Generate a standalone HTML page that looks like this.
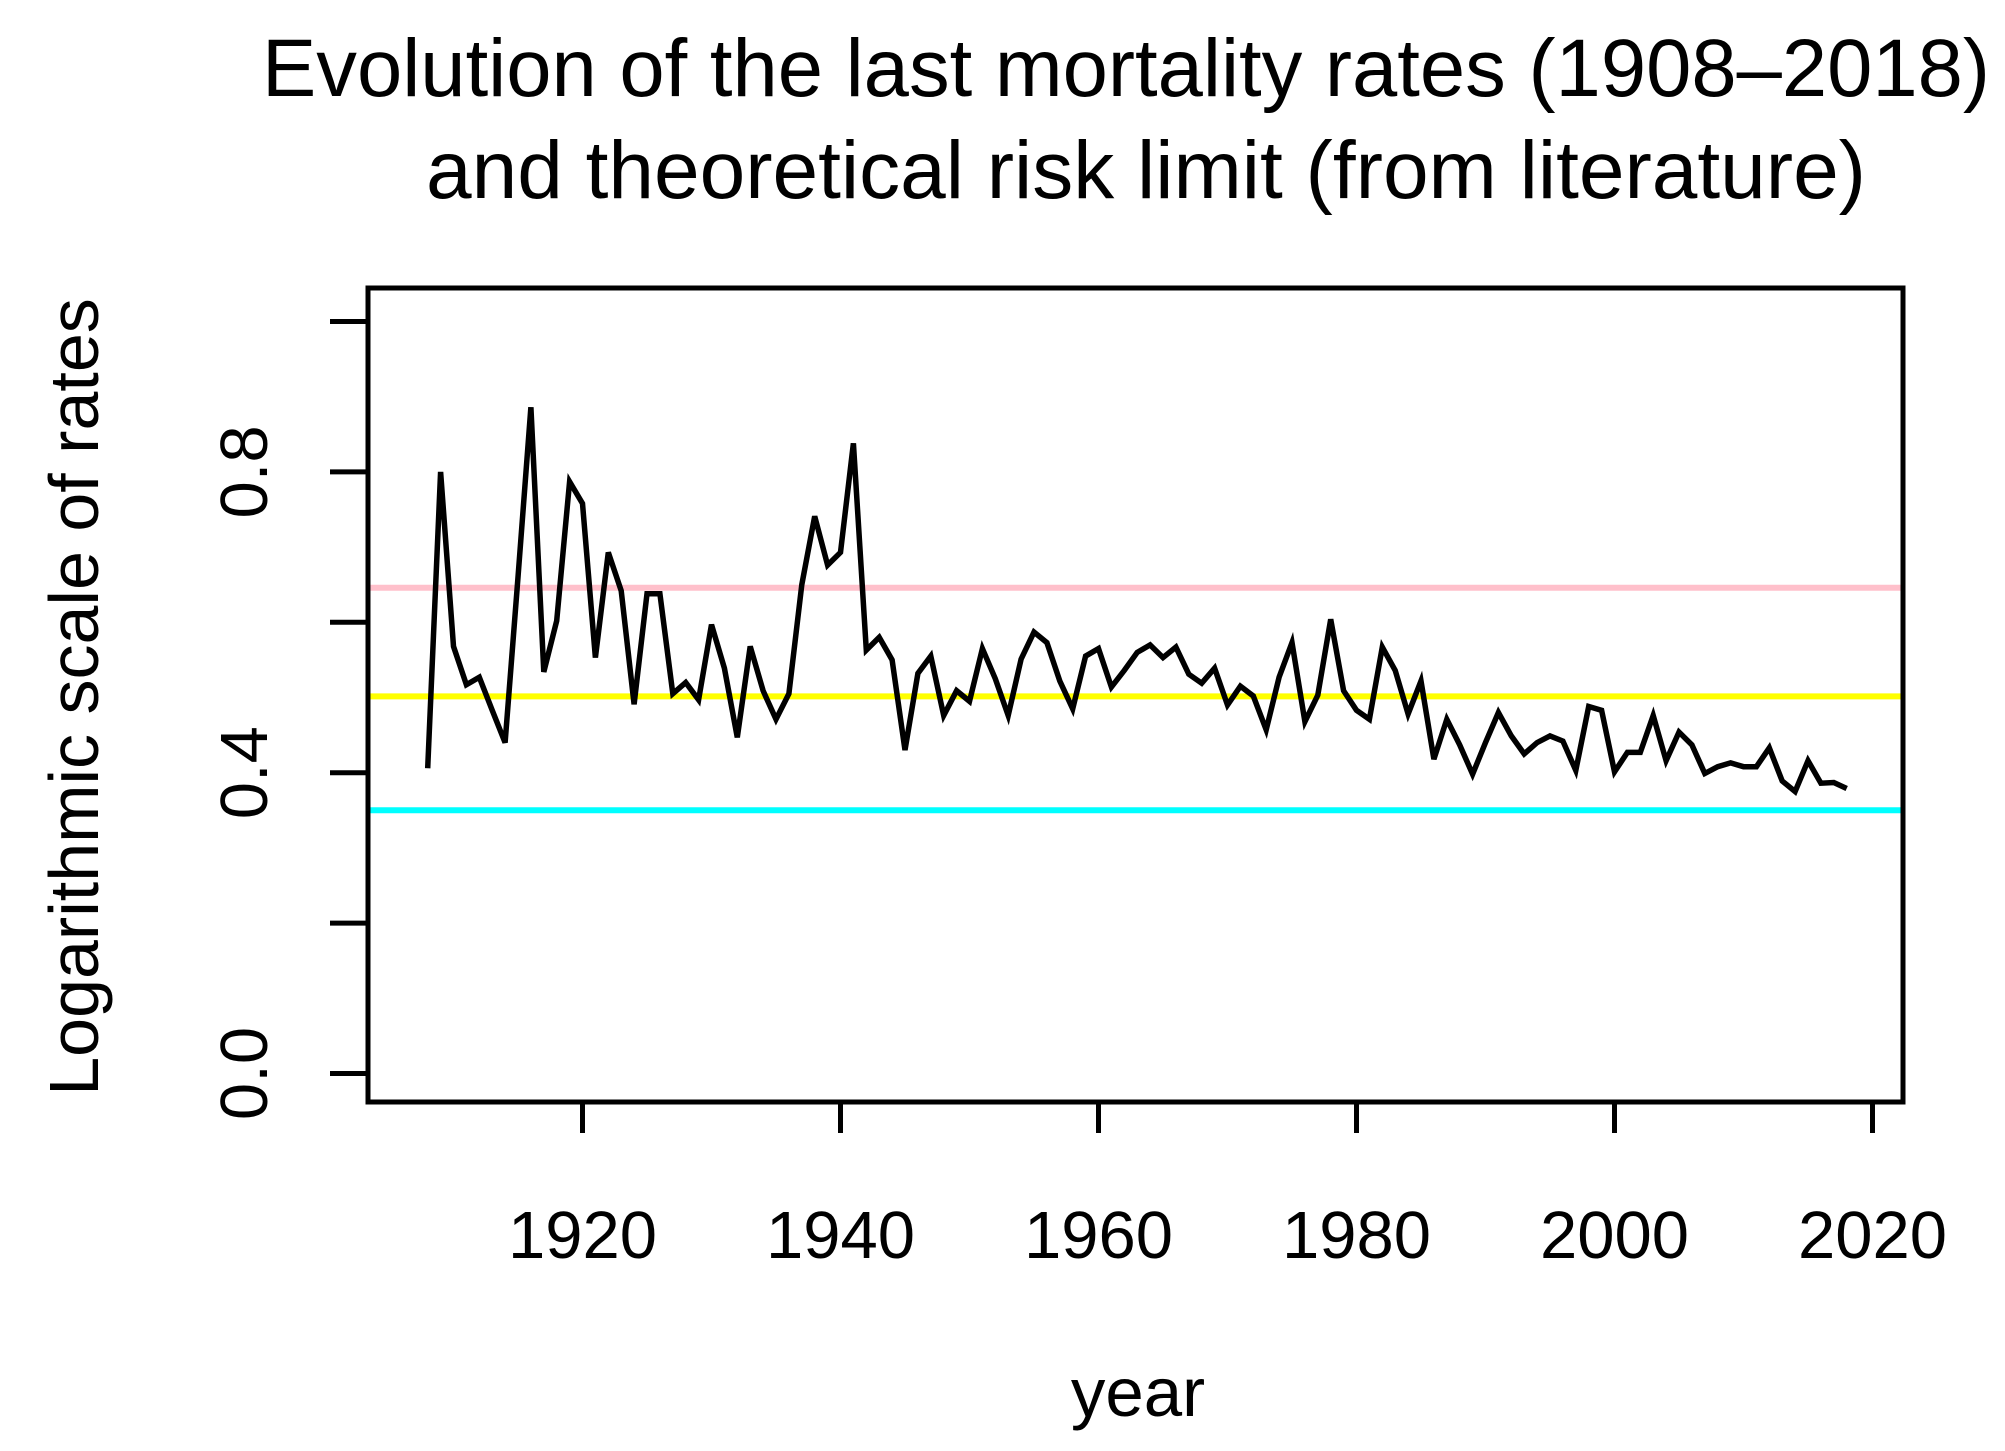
<!DOCTYPE html>
<html><head><meta charset="utf-8"><style>body{margin:0;background:#fff}svg{display:block}text{font-family:"Liberation Sans",Arial,sans-serif;fill:#000}</style></head>
<body>
<svg id="chart" width="2005" height="1451" viewBox="0 0 2005 1451" xmlns="http://www.w3.org/2000/svg">
<text x="1126" y="96" font-size="82" text-anchor="middle" textLength="1728" lengthAdjust="spacingAndGlyphs">Evolution of the last mortality rates (1908–2018)</text>
<text x="1146" y="198" font-size="82" text-anchor="middle">and theoretical risk limit (from literature)</text>
<g id="plot"></g>
<text x="1138" y="1416" font-size="69" text-anchor="middle">year</text>
<text x="0" y="0" font-size="70" text-anchor="middle" transform="translate(98,697) rotate(-90)">Logarithmic scale of rates</text>
</svg>
<script>
const years = [];
for (let y = 1908; y <= 2018; y++) years.push(y);
const rates = [0.406,0.80,0.568,0.517,0.527,0.483,0.44,0.66,0.886,0.534,0.602,0.787,0.758,0.553,0.693,0.642,0.491,0.638,0.638,0.505,0.52,0.497,0.597,0.539,0.447,0.568,0.509,0.471,0.505,0.65,0.741,0.676,0.693,0.838,0.563,0.58,0.55,0.43,0.532,0.555,0.476,0.509,0.495,0.565,0.525,0.476,0.551,0.587,0.573,0.522,0.485,0.555,0.565,0.514,0.536,0.56,0.57,0.553,0.567,0.531,0.519,0.539,0.49,0.515,0.502,0.457,0.527,0.573,0.468,0.503,0.604,0.509,0.483,0.471,0.567,0.536,0.478,0.522,0.418,0.471,0.437,0.398,0.44,0.48,0.449,0.425,0.44,0.449,0.442,0.403,0.488,0.483,0.401,0.427,0.427,0.476,0.416,0.454,0.437,0.399,0.408,0.413,0.408,0.408,0.433,0.389,0.375,0.416,0.386,0.387,0.379];
const limitValues = [0.646, 0.5015, 0.35];
const limitColors = ['#ffc0cb', '#ffff00', '#00ffff'];
const limitNames = ['pink-limit-line', 'yellow-limit-line', 'cyan-limit-line'];
const xTicks = [1920, 1940, 1960, 1980, 2000, 2020];
const yTicks = [0, 0.2, 0.4, 0.6, 0.8, 1.0];
const yTickLabels = ['0.0', '', '0.4', '', '0.8', ''];

const L = 368, R = 1903, T = 288, B = 1102;
const xs = yr => 582.5 + (yr - 1920) * 12.9;
const ys = v => 1073.5 - v * 752;
const NS = 'http://www.w3.org/2000/svg';
const g = document.getElementById('plot');
function mk(tag, attrs) { const e = document.createElementNS(NS, tag); for (const k in attrs) e.setAttribute(k, attrs[k]); g.appendChild(e); return e; }

limitValues.forEach((v, i) => {
  const ln = mk('line', {x1: L, x2: R, y1: ys(v), y2: ys(v), stroke: limitColors[i], 'stroke-width': 6});
  
  
});
const pts = years.map((y, i) => xs(y).toFixed(1) + ',' + ys(rates[i]).toFixed(1)).join(' ');
const pl = mk('polyline', {points: pts, fill: 'none', stroke: '#000', 'stroke-width': 5.5, 'stroke-linejoin': 'miter'});



const box = mk('rect', {x: L, y: T, width: R - L, height: B - T, fill: 'none', stroke: '#000', 'stroke-width': 5});



xTicks.forEach(t => {
  const tk = mk('line', {x1: xs(t), x2: xs(t), y1: B, y2: 1133, stroke: '#000', 'stroke-width': 5});
  
  
  const tx = mk('text', {x: xs(t), y: 1258, 'font-size': 67, 'text-anchor': 'middle'});
  tx.textContent = t;
  
  
});
yTicks.forEach((t, i) => {
  const tk = mk('line', {x1: 330, x2: L, y1: ys(t), y2: ys(t), stroke: '#000', 'stroke-width': 5});
  
  
  if (yTickLabels[i]) {
    const tx = mk('text', {x: 0, y: 0, 'font-size': 67, 'text-anchor': 'middle', transform: 'translate(267,' + ys(t) + ') rotate(-90)'});
    tx.textContent = yTickLabels[i];
    
    
  }
});
</script>
</body></html>
